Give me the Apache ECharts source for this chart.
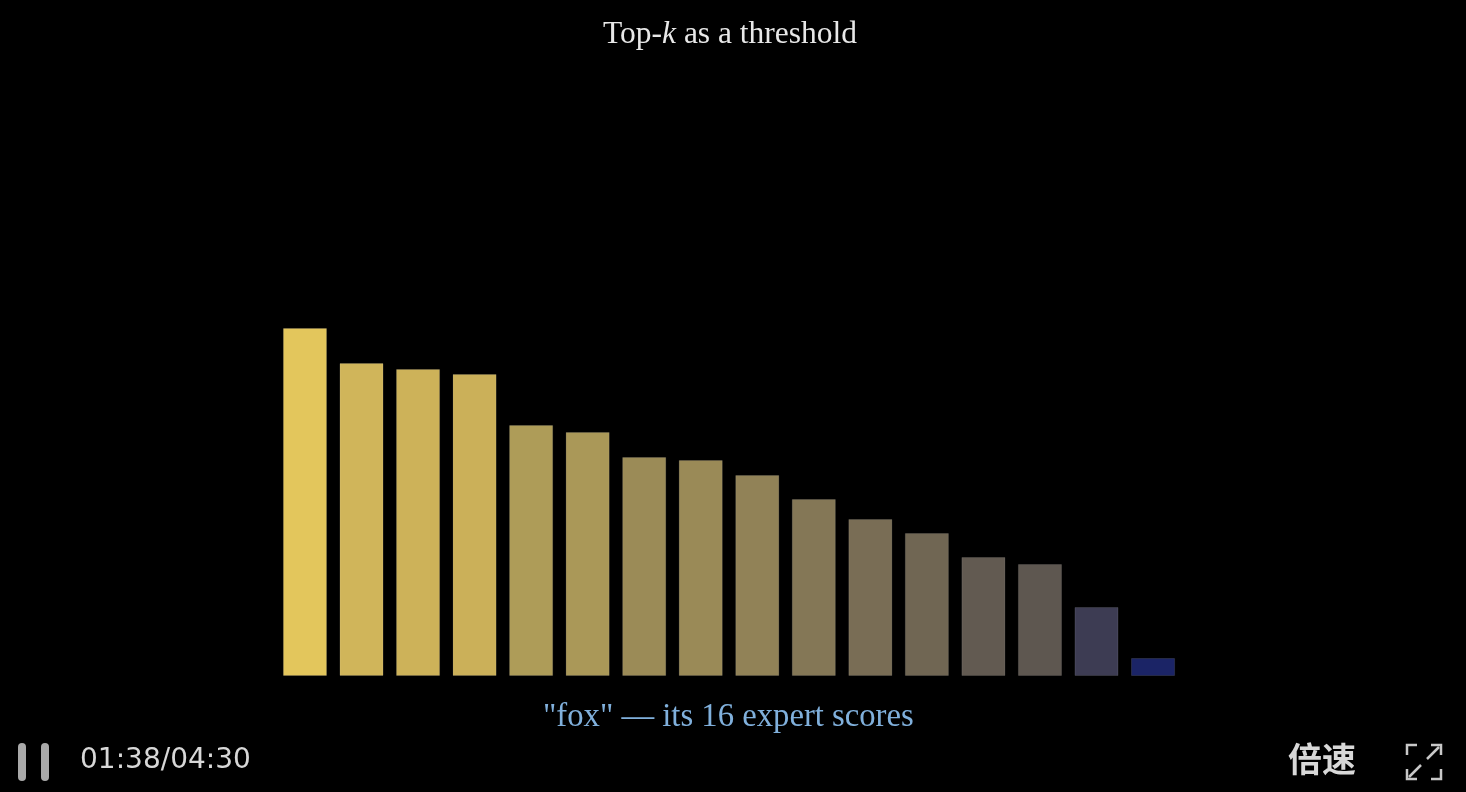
<!DOCTYPE html>
<html>
<head>
<meta charset="utf-8">
<script src="https://cdn.jsdelivr.net/npm/echarts@6/dist/echarts.min.js"></script>
<style>
html,body{margin:0;padding:0;background:#000;}
#chart{width:1466px;height:792px;}
</style>
</head>
<body>
<div id="chart"></div>
<script>
// Data
var experts = ['E1','E2','E3','E4','E5','E6','E7','E8','E9','E10','E11','E12','E13','E14','E15','E16'];
var scores = [3.48, 3.13, 3.07, 3.02, 2.51, 2.44, 2.19, 2.16, 2.01, 1.77, 1.57, 1.43, 1.19, 1.12, 0.69, 0.18];
var titleMain = 'Top-';
var titleVar = 'k';
var titleRest = ' as a threshold';
var caption = '"fox" \u2014 its 16 expert scores';
var timeText = '01:38/04:30';
var speedText = '倍速';

var chart = echarts.init(document.getElementById('chart'), null, {renderer: 'canvas'});
chart.setOption({
  backgroundColor: '#000000',
  animation: false,
  title: {
    text: '{a|' + titleMain + '}{k|' + titleVar + '}{a|' + titleRest + '}',
    left: 603,
    top: 19,
    padding: 0,
    textStyle: {
      fontWeight: 'normal',
      rich: {
        a: {fontFamily: 'Liberation Serif', fontWeight: 'normal', fontSize: 31.5, color: '#e8e8e8'},
        k: {fontFamily: 'Liberation Serif', fontWeight: 'normal', fontStyle: 'italic', fontSize: 31.5, color: '#e8e8e8'}
      }
    }
  },
  grid: {left: 276.7, width: 904.6, top: 76, bottom: 116},
  xAxis: {
    type: 'category',
    data: experts,
    axisLine: {show: false}, axisTick: {show: false}, axisLabel: {show: false}
  },
  yAxis: {
    type: 'value', min: 0, max: 6, interval: 1,
    axisLine: {show: false}, axisTick: {show: false}, axisLabel: {show: false},
    splitLine: {show: false}
  },
  visualMap: {
    show: false,
    type: 'continuous',
    dimension: 1,
    min: 0.18, max: 3.48,
    inRange: {color: ['#1b2466', '#3a3a53', '#5e5750', '#7a6e55', '#948557', '#b09d58', '#caaf59', '#e3c65c']}
  },
  series: [{
    type: 'bar',
    data: scores,
    barCategoryGap: '22%',
    itemStyle: {borderColor: 'rgba(255,255,255,0.10)', borderWidth: 1}
  }],
  graphic: [
    {type: 'text', left: 543, top: 701,
     style: {text: caption, font: '32.7px "Liberation Serif"', fill: '#80b0dc'}},
    {type: 'rect', shape: {x: 18, y: 743, width: 8, height: 38, r: 4}, style: {fill: '#a9a9a9'}},
    {type: 'rect', shape: {x: 41, y: 743, width: 8, height: 38, r: 4}, style: {fill: '#a9a9a9'}},
    {type: 'text', left: 80, top: 747,
     style: {text: timeText, font: '28px "DejaVu Sans"', fill: '#d8d8d8'}},
    {type: 'text', left: 1288, top: 742,
     style: {text: speedText, font: 'bold 34px "Noto Sans CJK SC"', fill: '#d8d8d8'}},
    {type: 'polyline', shape: {points: [[1407, 755], [1407, 745], [1417, 745]]}, style: {stroke: '#c8c8c8', lineWidth: 2.5, fill: null}},
    {type: 'polyline', shape: {points: [[1431, 745], [1441, 745], [1441, 755]]}, style: {stroke: '#c8c8c8', lineWidth: 2.5, fill: null}},
    {type: 'polyline', shape: {points: [[1407, 769], [1407, 779], [1417, 779]]}, style: {stroke: '#c8c8c8', lineWidth: 2.5, fill: null}},
    {type: 'polyline', shape: {points: [[1431, 779], [1441, 779], [1441, 769]]}, style: {stroke: '#c8c8c8', lineWidth: 2.5, fill: null}},
    {type: 'line', shape: {x1: 1427, y1: 759, x2: 1439, y2: 747}, style: {stroke: '#c8c8c8', lineWidth: 2.5}},
    {type: 'line', shape: {x1: 1409, y1: 777, x2: 1421, y2: 765}, style: {stroke: '#c8c8c8', lineWidth: 2.5}}
  ]
});
</script>
</body>
</html>
